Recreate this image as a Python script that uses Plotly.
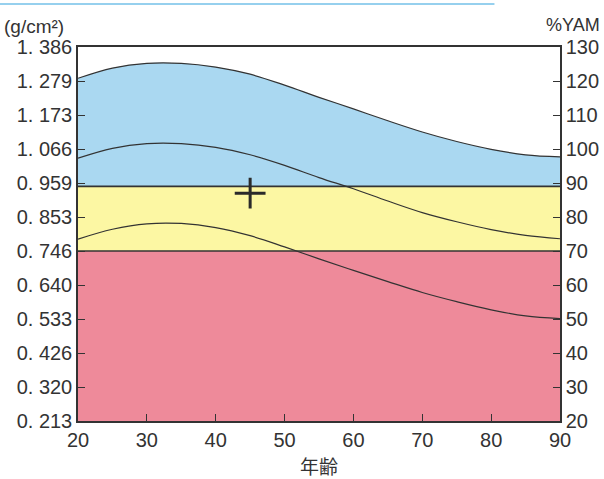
import plotly.graph_objects as go

# Data (values in %YAM; 100 %YAM = 1.066 g/cm2)
ages = [20, 25, 30, 35, 40, 45, 50, 55, 60, 65, 70, 75, 80, 85, 90]
upper_curve = [120.8, 123.8, 125.2, 125.2, 124.1, 122.0, 118.8, 115.2, 111.8, 108.3, 105.0, 102.2, 99.9, 98.3, 97.7]
middle_curve = [97.3, 100.2, 101.6, 101.6, 100.5, 98.3, 95.2, 91.6, 88.3, 84.7, 81.3, 78.6, 76.3, 74.6, 73.6]
lower_curve = [73.5, 76.4, 78.0, 78.1, 76.9, 74.5, 71.2, 67.7, 64.3, 61.0, 57.8, 55.1, 52.7, 50.9, 50.1]

band_levels = [20, 70, 89]  # red base, red/yellow boundary, yellow/blue boundary

patient_age = [45]
patient_yam = [87]

yam_ticks = [20, 30, 40, 50, 60, 70, 80, 90, 100, 110, 120, 130]
gcm_labels = ["0. 213", "0. 320", "0. 426", "0. 533", "0. 640", "0. 746",
              "0. 853", "0. 959", "1. 066", "1. 173", "1. 279", "1. 386"]
x_ticks = [20, 30, 40, 50, 60, 70, 80, 90]

RED = "rgb(238,138,154)"
YELLOW = "rgb(252,247,163)"
BLUE = "rgb(170,216,241)"
LINE = "#333333"

x_span = [ages[0], ages[-1]]

fig = go.Figure()
# red band
fig.add_trace(go.Scatter(x=x_span, y=[band_levels[0]] * 2, mode="lines",
                         line=dict(width=0), showlegend=False, hoverinfo="skip"))
fig.add_trace(go.Scatter(x=x_span, y=[band_levels[1]] * 2, mode="lines", fill="tonexty",
                         fillcolor=RED, line=dict(width=1.6, color=LINE), showlegend=False))
# yellow band
fig.add_trace(go.Scatter(x=x_span, y=[band_levels[2]] * 2, mode="lines", fill="tonexty",
                         fillcolor=YELLOW, line=dict(width=1.6, color=LINE), showlegend=False))
# blue band up to upper curve
fig.add_trace(go.Scatter(x=ages, y=upper_curve, mode="lines", fill="tonexty",
                         fillcolor=BLUE, line=dict(width=1.2, color=LINE, shape="spline"),
                         showlegend=False))
fig.add_trace(go.Scatter(x=ages, y=middle_curve, mode="lines",
                         line=dict(width=1.2, color=LINE, shape="spline"), showlegend=False))
fig.add_trace(go.Scatter(x=ages, y=lower_curve, mode="lines",
                         line=dict(width=1.2, color=LINE, shape="spline"), showlegend=False))
# patient marker
fig.add_trace(go.Scatter(x=patient_age, y=patient_yam, mode="markers",
                         marker=dict(symbol="cross-thin", size=22,
                                     line=dict(width=3, color="#2a2a2a")),
                         showlegend=False))
# invisible trace for right axis
fig.add_trace(go.Scatter(x=patient_age, y=patient_yam, mode="markers", yaxis="y2",
                         marker=dict(opacity=0), showlegend=False, hoverinfo="skip"))

tick_font = dict(family="Liberation Sans, Arial, sans-serif", size=20, color="#333333")

fig.update_layout(
    width=604, height=479,
    margin=dict(l=78, r=44, t=47, b=58, autoexpand=False),
    paper_bgcolor="white", plot_bgcolor="white",
    font=tick_font,
    xaxis=dict(range=x_span, tickvals=x_ticks, ticks="inside", ticklen=7,
               tickcolor=LINE, tickwidth=1.3, showgrid=False, zeroline=False,
               showline=True, linecolor=LINE, linewidth=1.5, mirror=True,
               tickfont=tick_font, automargin=False),
    yaxis=dict(range=[yam_ticks[0], yam_ticks[-1]], tickvals=yam_ticks, ticktext=gcm_labels,
               ticks="inside", ticklen=7, tickcolor=LINE, tickwidth=1.3,
               showgrid=False, zeroline=False, showline=True, linecolor=LINE,
               linewidth=1.5, ticklabelstandoff=0, tickfont=tick_font, automargin=False),
    yaxis2=dict(range=[yam_ticks[0], yam_ticks[-1]], tickvals=yam_ticks, overlaying="y",
                side="right", ticks="inside", ticklen=7, tickcolor=LINE, tickwidth=1.3,
                showgrid=False, zeroline=False, showline=True, linecolor=LINE,
                linewidth=1.5, ticklabelstandoff=0, tickfont=tick_font, automargin=False),
    annotations=[
        dict(text="年齢", xref="paper", yref="paper", x=0.5, y=-0.119,
             xanchor="center", yanchor="middle", showarrow=False,
             font=dict(family="Noto Sans CJK JP", size=19, color="#333333")),
        dict(text="(g/cm²)", xref="paper", yref="paper", x=-0.158, y=1.056,
             xanchor="left", yanchor="middle", showarrow=False,
             font=dict(family="Liberation Sans", size=19, color="#333333")),
        dict(text="%YAM", xref="paper", yref="paper", x=1.088, y=1.058,
             xanchor="right", yanchor="middle", showarrow=False,
             font=dict(family="Liberation Sans Narrow, Liberation Sans", size=18, color="#333333")),
    ],
    shapes=[
        dict(type="line", xref="paper", yref="paper", x0=-0.162, x1=0.864,
             y0=1.1148, y1=1.1148, line=dict(color="rgb(150,208,238)", width=2)),
    ],
)

fig.write_html("out.html", config={"displayModeBar": False},
               post_script="document.body.style.margin='0';document.body.style.padding='0';")
